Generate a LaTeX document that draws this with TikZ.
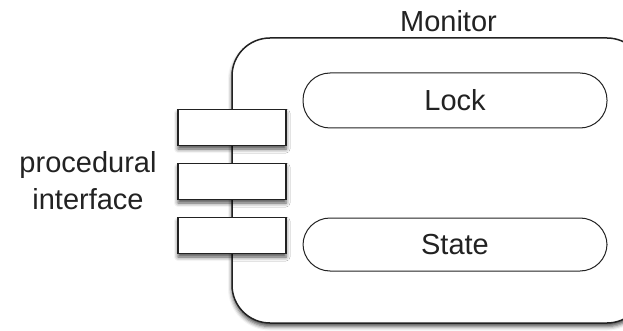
\documentclass[tikz,border=0pt]{standalone}
\usepackage{fontspec}
\setmainfont{Liberation Sans}
\usetikzlibrary{shadows.blur}
\definecolor{ink}{HTML}{222222}
\tikzset{
  softshadow/.style={blur shadow={shadow xshift=0pt, shadow yshift=-3.5pt,
      shadow blur radius=4pt, shadow opacity=70}},
  monitorbox/.style={draw=ink, line width=1.5pt, fill=white, rounded corners=38pt,
      softshadow, inner sep=0pt},
  portbox/.style={draw=ink, line width=1.2pt, fill=white, softshadow,
      minimum width=108pt, minimum height=36pt, inner sep=0pt},
  pill/.style={draw=ink, line width=1pt, fill=white, rounded corners=27pt,
      minimum width=304pt, inner sep=0pt},
  label/.style={text=ink, font=\fontsize{29}{37}\selectfont, inner sep=0pt},
}
\begin{document}
\begin{tikzpicture}[x=1pt, y=-1pt]
  \useasboundingbox (0,0) rectangle (623,331);

  % monitor body (its right side runs past the frame)
  \node[monitorbox, minimum width=413pt, minimum height=285pt] (monitor) at (438.5,180.5) {};
  \node[label, anchor=base] (monitorlabel) at (448.5,32) {Monitor};

  % internal parts
  \node[pill, minimum height=55pt] (lock) at (455,100.5) {};
  \node[label] (locklabel) at (lock.center) {Lock};
  \node[pill, minimum height=53pt] (state) at (455,244.5) {};
  \node[label] (statelabel) at (state.center) {State};

  % procedural interface ports
  \node[portbox] (port1) at (232,127.5) {};
  \node[portbox] (port2) at (232,181.5) {};
  \node[portbox] (port3) at (232,235.5) {};

  \node[label, align=center] (iface) at (88,181) {procedural\\interface};
\end{tikzpicture}
\end{document}
